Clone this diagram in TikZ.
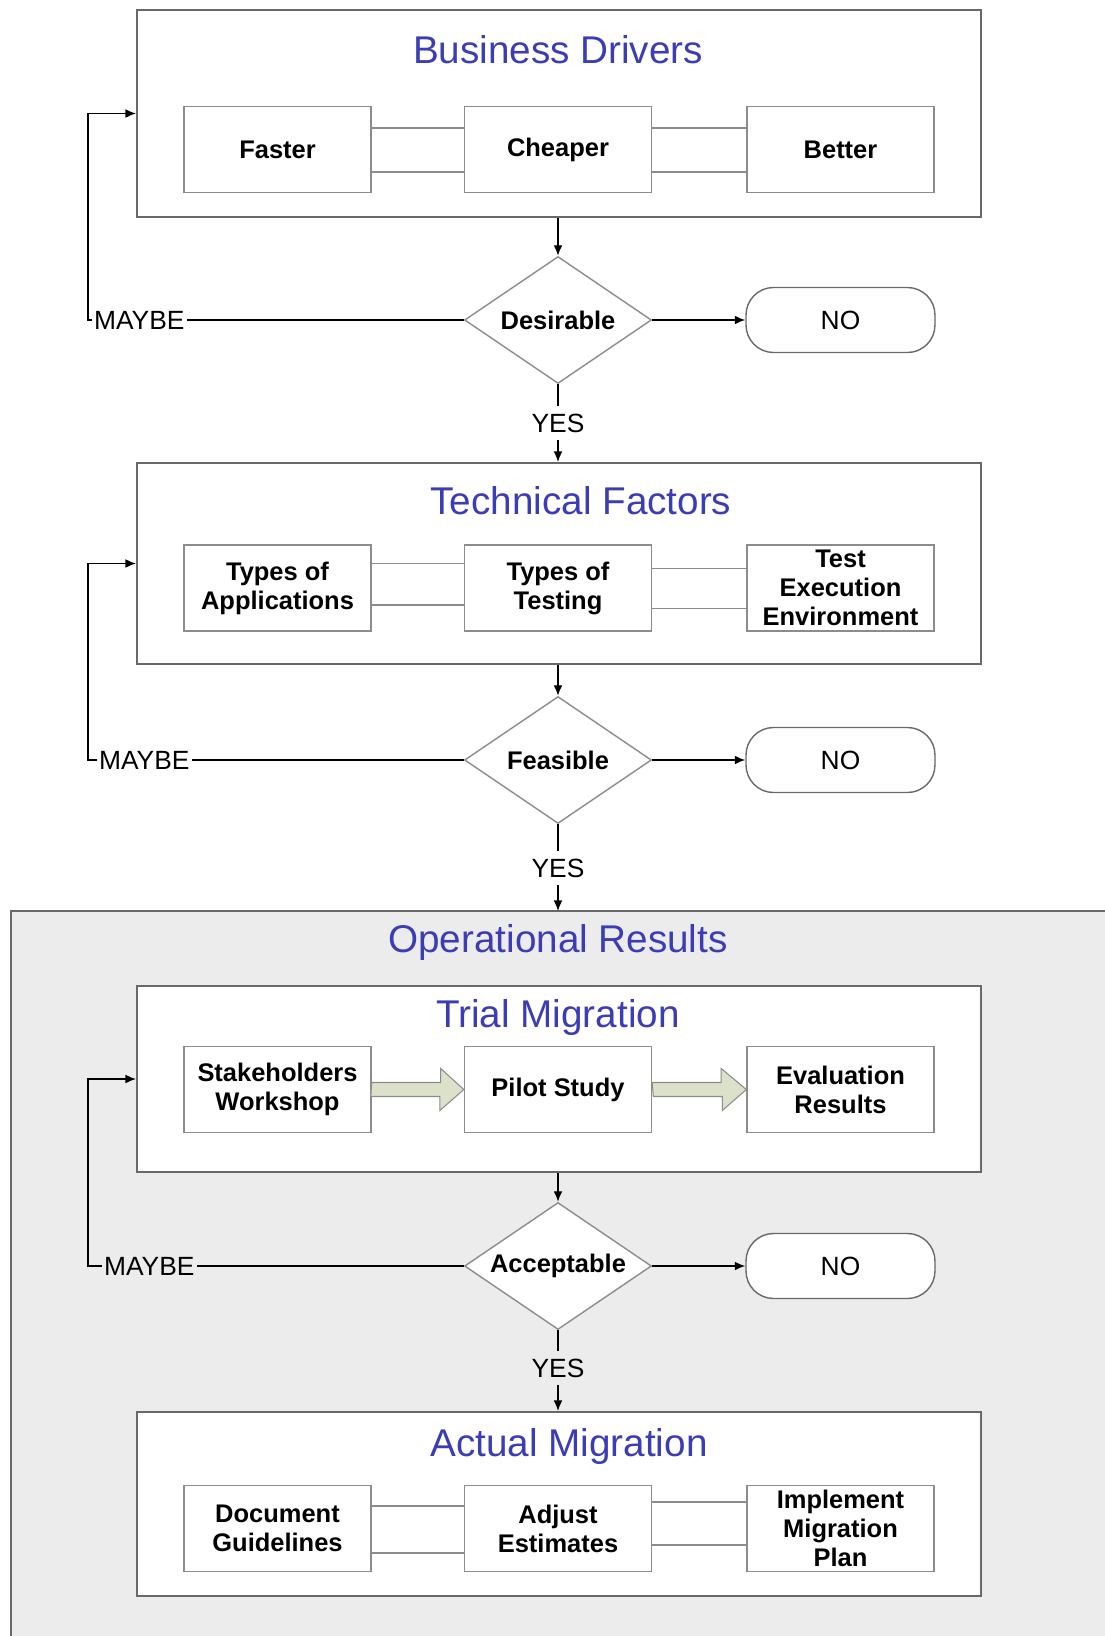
\documentclass[tikz,border=0pt]{standalone}
\usepackage{fontspec}
\setmainfont{Liberation Sans}
\usetikzlibrary{shapes.geometric,arrows.meta}
\definecolor{titleblue}{RGB}{60,60,180}
\definecolor{boxgray}{RGB}{105,105,105}
\definecolor{itemgray}{RGB}{140,140,140}
\definecolor{opsgray}{RGB}{236,236,236}
\definecolor{blockfill}{RGB}{220,226,202}
\begin{document}
\begin{tikzpicture}[x=0.02cm,y=-0.02cm,
  outer/.style={draw=boxgray,line width=1.2pt,fill=white,minimum width=16.88cm},
  item/.style={draw=itemgray,line width=0.8pt,fill=white,minimum width=3.74cm,minimum height=1.72cm,align=center,inner sep=1pt,font=\fontsize{14.5}{16.5}\selectfont\bfseries},
  head/.style={text=titleblue,inner sep=1pt,font=\fontsize{22}{26}\selectfont},
  choice/.style={diamond,aspect=1.47,draw=itemgray,line width=0.8pt,fill=white,minimum width=3.74cm,minimum height=2.54cm,inner sep=0pt,font=\fontsize{14.5}{16.5}\selectfont\bfseries},
  nobox/.style={draw=boxgray,line width=0.8pt,fill=white,rounded corners=0.55cm,minimum width=3.78cm,minimum height=1.3cm,font=\fontsize{15}{18}\selectfont},
  tag/.style={inner xsep=1pt,inner ysep=4pt,font=\fontsize{15}{18}\selectfont},
  link/.style={draw=itemgray,line width=0.8pt},
  flow/.style={-{Latex[length=6pt,width=5pt]},line width=0.8pt},
  block/.style={draw=itemgray,fill=blockfill,line width=0.6pt}
]
\useasboundingbox (0,0) rectangle (1105,1636);
\coordinate (loop) at (88,0);
%
% operational results area
\fill[opsgray] (11,911) rectangle (1105,1636);
\draw[boxgray,line width=1.2pt] (11,1636) -- (11,911) -- (1105,911);
\node[head] (opst) at (558,942) {Operational Results};
%
% business drivers
\node[outer,minimum height=4.14cm] (bd) at (559,113.5) {};
\node[head] (bdt) at (558,50) {Business Drivers};
\node[item] (faster) at (277.5,149.5) {Faster};
\node[item] (cheaper) at (558,149.5) {Cheaper};
\node[item] (better) at (840.5,149.5) {Better};
\foreach \a/\b/\u/\l in {faster/cheaper/0.43/-0.45,cheaper/better/0.43/-0.45}{
  \draw[link] ([yshift=\u cm]\a.east) -- ([yshift=\u cm]\b.west);
  \draw[link] ([yshift=\l cm]\a.east) -- ([yshift=\l cm]\b.west);
}
\node[choice] (des) at (558,320) {Desirable};
\node[nobox] (no1) at (840.5,320) {NO};
\node[tag,anchor=west] (may1) at (92,320) {MAYBE};
\node[tag] (yes1) at (558,423) {YES};
\draw[flow] (des.north |- bd.south) -- (des.north);
\draw[flow] (des.east) -- (no1.west);
\draw[line width=0.8pt] (des.west) -- (may1.east);
\draw[flow] (may1.west) -- (may1.west -| loop) |- (bd.west);
\draw[line width=0.8pt] (des.south) -- (yes1.north);
%
% technical factors
\node[outer,minimum height=4.02cm] (tf) at (559,563.5) {};
\node[head] (tft) at (581,501) {Technical Factors};
\node[item] (apps) at (277.5,588) {Types of\\Applications};
\node[item] (tests) at (558,588) {Types of\\Testing};
\node[item] (env) at (840.5,588) {Test\\Execution\\Environment};
\foreach \a/\b/\u/\l in {apps/tests/0.49/-0.34,tests/env/0.39/-0.41}{
  \draw[link] ([yshift=\u cm]\a.east) -- ([yshift=\u cm]\b.west);
  \draw[link] ([yshift=\l cm]\a.east) -- ([yshift=\l cm]\b.west);
}
\draw[flow] (yes1.south) -- (yes1.south |- tf.north);
\node[choice] (feas) at (558,760) {Feasible};
\node[nobox] (no2) at (840.5,760) {NO};
\node[tag,anchor=west] (may2) at (97,760) {MAYBE};
\node[tag] (yes2) at (558,868) {YES};
\draw[flow] (feas.north |- tf.south) -- (feas.north);
\draw[flow] (feas.east) -- (no2.west);
\draw[line width=0.8pt] (feas.west) -- (may2.east);
\draw[flow] (may2.west) -- (may2.west -| loop) |- (tf.west);
\draw[line width=0.8pt] (feas.south) -- (yes2.north);
\draw[flow] (yes2.south) -- (yes2 |- 0,911);
%
% trial migration
\node[outer,minimum height=3.72cm] (tm) at (559,1079) {};
\node[head] (tmt) at (558,1017) {Trial Migration};
\node[item] (work) at (277.5,1089.5) {Stakeholders\\Workshop};
\node[item] (pilot) at (558,1089.5) {Pilot Study};
\node[item] (eval) at (840.5,1089.5) {Evaluation\\Results};
\foreach \a/\b in {work/pilot,pilot/eval}
  \draw[block] (\a.east) ++(0,-7) -- ++(69,0) -- ++(0,-14) -- (\b.west) -- ++(-24,21) -- ++(0,-14) -- ++(-69,0) -- cycle;
\node[choice] (acc) at (558,1266) {Acceptable};
\node[nobox] (no3) at (840.5,1266) {NO};
\node[tag,anchor=west] (may3) at (102,1266) {MAYBE};
\node[tag] (yes3) at (558,1368) {YES};
\draw[flow] (acc.north |- tm.south) -- (acc.north);
\draw[flow] (acc.east) -- (no3.west);
\draw[line width=0.8pt] (acc.west) -- (may3.east);
\draw[flow] (may3.west) -- (may3.west -| loop) |- (tm.west);
\draw[line width=0.8pt] (acc.south) -- (yes3.north);
%
% actual migration
\node[outer,minimum height=3.68cm] (am) at (559,1504) {};
\node[head] (amt) at (569,1446) {Actual Migration};
\node[item] (guide) at (277.5,1528.5) {Document\\Guidelines};
\node[item] (adjust) at (558,1528.5) {Adjust\\Estimates};
\node[item] (plan) at (840.5,1528.5) {Implement\\Migration\\Plan};
\foreach \a/\b/\u/\l in {guide/adjust/0.45/-0.49,adjust/plan/0.53/-0.33}{
  \draw[link] ([yshift=\u cm]\a.east) -- ([yshift=\u cm]\b.west);
  \draw[link] ([yshift=\l cm]\a.east) -- ([yshift=\l cm]\b.west);
}
\draw[flow] (yes3.south) -- (yes3.south |- am.north);
\end{tikzpicture}
\end{document}
